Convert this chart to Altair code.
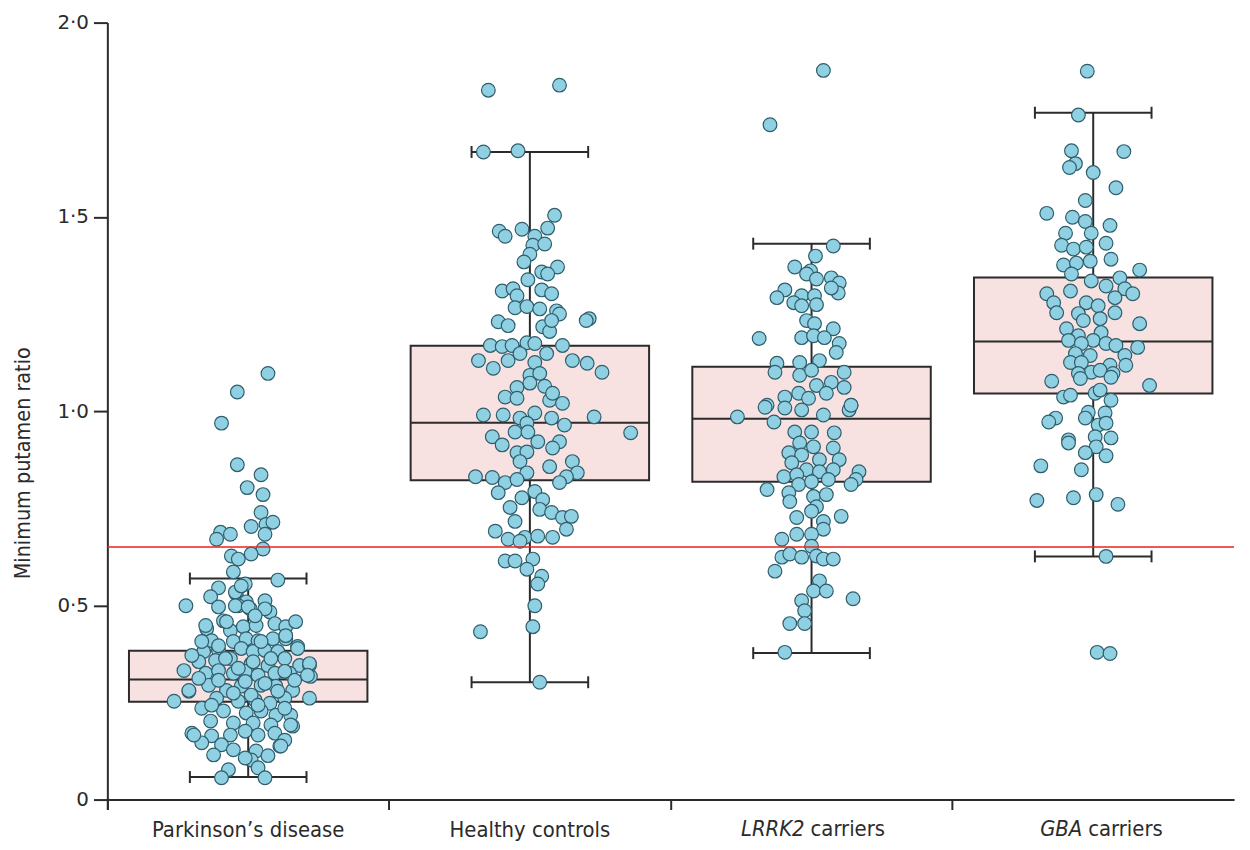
import altair as alt
import pandas as pd

# ---------------- data ----------------
groups = ["Parkinson’s disease", "Healthy controls", "LRRK2 carriers", "GBA carriers"]

# box-plot summary per group
q1 = [0.252, 0.822, 0.818, 1.045]
median = [0.309, 0.970, 0.980, 1.179]
q3 = [0.383, 1.168, 1.114, 1.344]
whisker_low = [0.058, 0.302, 0.377, 0.626]
whisker_high = [0.569, 1.667, 1.431, 1.768]

# individual subjects: value and horizontal jitter (offset from group centre)
pd_values = [1.097, 1.049, 0.969, 0.862, 0.836, 0.803, 0.785, 0.739, 0.703, 0.708, 0.714, 0.683, 0.688, 0.683,
             0.670, 0.645, 0.627, 0.619, 0.632, 0.586, 0.565, 0.555, 0.545, 0.499, 0.522, 0.529, 0.509, 0.512,
             0.534, 0.496, 0.499, 0.491, 0.483, 0.440, 0.460, 0.435, 0.445, 0.448, 0.453, 0.445, 0.458, 0.409,
             0.407, 0.414, 0.409, 0.414, 0.414, 0.394, 0.381, 0.384, 0.389, 0.381, 0.384, 0.381, 0.355, 0.358,
             0.363, 0.350, 0.345, 0.363, 0.345, 0.345, 0.332, 0.325, 0.332, 0.325, 0.330, 0.320, 0.325, 0.325,
             0.317, 0.279, 0.253, 0.294, 0.281, 0.292, 0.294, 0.292, 0.281, 0.261, 0.261, 0.253, 0.256, 0.248,
             0.261, 0.235, 0.228, 0.223, 0.228, 0.217, 0.217, 0.202, 0.197, 0.197, 0.192, 0.189, 0.171, 0.164,
             0.166, 0.176, 0.166, 0.171, 0.146, 0.141, 0.128, 0.125, 0.113, 0.138, 0.102, 0.082, 0.077, 0.056,
             0.056, 0.153, 0.115, 0.107, 0.550, 0.499, 0.496, 0.491, 0.448, 0.458, 0.473, 0.422, 0.407, 0.396,
             0.407, 0.389, 0.350, 0.320, 0.371, 0.363, 0.338, 0.355, 0.363, 0.330, 0.312, 0.307, 0.304, 0.299,
             0.307, 0.281, 0.274, 0.269, 0.279, 0.243, 0.243, 0.235, 0.192, 0.166, 0.138]
pd_jitter = [20, -11, -27, -11, 13, -1, 15, 13, 3, 18, 25, 17, -28, -18,
             -32, 15, -17, -10, 3, -15, 30, -3, -30, -63, -38, -12, -2, 17,
             -13, -30, -10, 2, 22, -42, -25, -18, -5, 8, 27, 38, 48, -37,
             -15, -2, 10, 25, 38, 50, -45, -30, -7, 5, 17, 30, -50, -33,
             -18, 3, 20, 37, 52, 62, -65, -43, -30, -15, -3, 10, 27, 42,
             63, -60, -75, -40, -22, -7, 13, 28, 45, 62, -32, -10, 7, 22,
             37, -47, -25, -2, 13, 28, 43, -38, -15, 5, 23, 45, -57, -37,
             -18, -3, 10, 27, -47, -27, -15, 8, 20, 32, 3, 10, -20, -27,
             17, 37, -35, -3, -7, -13, 0, 17, -43, -22, 7, 38, -47, -30,
             13, 50, 62, 60, -57, -23, -10, 5, 23, 37, -50, -30, -3, 17,
             47, -60, -15, 3, 30, -37, 10, 37, 43, -55, 33]

hc_values = [1.826, 1.839, 1.667, 1.670, 1.504, 1.463, 1.450, 1.468, 1.471, 1.450, 1.427, 1.430, 1.404, 1.384,
             1.371, 1.358, 1.353, 1.338, 1.309, 1.315, 1.297, 1.312, 1.302, 1.266, 1.269, 1.263, 1.258, 1.250,
             1.238, 1.233, 1.230, 1.220, 1.217, 1.205, 1.233, 1.169, 1.166, 1.169, 1.176, 1.174, 1.169, 1.130,
             1.110, 1.130, 1.148, 1.125, 1.148, 1.130, 1.123, 1.100, 1.092, 1.097, 1.061, 1.072, 1.064, 1.036,
             1.033, 1.028, 1.020, 1.046, 0.990, 0.990, 0.982, 0.995, 0.982, 0.985, 0.944, 0.969, 0.964, 0.946,
             0.946, 0.934, 0.921, 0.921, 0.913, 0.905, 0.893, 0.895, 0.870, 0.857, 0.870, 0.841, 0.831, 0.841,
             0.831, 0.829, 0.816, 0.824, 0.816, 0.790, 0.793, 0.777, 0.772, 0.752, 0.747, 0.739, 0.716, 0.726,
             0.729, 0.696, 0.691, 0.670, 0.675, 0.678, 0.675, 0.665, 0.614, 0.614, 0.619, 0.593, 0.575, 0.555,
             0.499, 0.432, 0.445, 0.302]
hc_jitter = [-42, 30, -47, -12, 25, -31, -25, -8, 18, 5, 3, 15, 0, -6,
             28, 12, 18, -2, -28, -17, -13, 12, 22, -15, -3, 10, 27, 30,
             60, 57, -32, -22, 13, 20, 22, -40, -28, -18, -3, 5, 33, -52,
             -37, -22, -10, 5, 17, 43, 58, 73, 0, 10, -13, 0, 15, -25,
             -13, 20, 33, 23, -47, -27, -10, 5, 22, 65, 102, -3, 35, -15,
             -2, -38, 8, 30, -28, 23, -13, -3, -10, 20, 43, 48, 37, -3,
             -55, -38, -25, -13, 30, -32, 5, -8, 13, -20, 10, 22, -15, 33,
             42, 37, -35, -22, -5, 8, 23, -10, -25, -15, 3, -3, 12, 8,
             5, -50, 3, 10]

lrrk2_values = [1.877, 1.737, 1.425, 1.399, 1.371, 1.361, 1.353, 1.340, 1.343, 1.330, 1.304, 1.317, 1.312, 1.292,
                1.297, 1.297, 1.279, 1.271, 1.274, 1.233, 1.225, 1.212, 1.187, 1.189, 1.194, 1.189, 1.174, 1.151,
                1.123, 1.100, 1.125, 1.130, 1.100, 1.092, 1.105, 1.066, 1.074, 1.061, 1.036, 1.046, 1.015, 1.033,
                1.046, 1.015, 0.985, 1.010, 0.972, 1.008, 1.003, 0.990, 1.003, 1.015, 0.946, 0.946, 0.944, 0.918,
                0.908, 0.905, 0.893, 0.887, 0.875, 0.875, 0.867, 0.849, 0.849, 0.844, 0.831, 0.836, 0.844, 0.824,
                0.811, 0.811, 0.818, 0.824, 0.798, 0.790, 0.780, 0.785, 0.767, 0.754, 0.742, 0.729, 0.726, 0.716,
                0.696, 0.683, 0.683, 0.670, 0.652, 0.624, 0.632, 0.624, 0.627, 0.619, 0.619, 0.588, 0.563, 0.537,
                0.537, 0.517, 0.512, 0.486, 0.453, 0.453, 0.379]
lrrk2_jitter = [12, -42, 22, 4, -17, -1, -5, 5, 20, 28, 27, 20, -27, -35,
                -10, 3, -18, -10, 5, -5, 3, 22, -53, -10, 2, 13, 28, 25,
                -35, -37, -12, 8, 33, -12, 0, 5, 20, 33, -27, -13, -45, -3,
                15, 40, -75, -47, -38, -27, -10, 12, 38, 40, -17, 0, 23, -12,
                2, 22, -23, -10, 8, 28, -20, -5, 22, 8, -28, -15, 48, 45,
                40, -13, 0, 17, -45, -23, 2, 15, -22, 5, 0, 30, -15, 12,
                12, -15, 0, -30, 0, -30, -22, -10, 5, 12, 22, -37, 8, 2,
                15, 42, -10, -7, -22, -7, -27]

gba_values = [1.875, 1.762, 1.670, 1.668, 1.637, 1.627, 1.614, 1.575, 1.542, 1.509, 1.499, 1.488, 1.478, 1.458,
              1.458, 1.432, 1.427, 1.417, 1.422, 1.391, 1.376, 1.381, 1.386, 1.353, 1.363, 1.335, 1.343, 1.322,
              1.315, 1.302, 1.302, 1.309, 1.279, 1.279, 1.271, 1.292, 1.253, 1.251, 1.253, 1.225, 1.233, 1.238,
              1.212, 1.202, 1.194, 1.182, 1.182, 1.174, 1.169, 1.164, 1.174, 1.148, 1.143, 1.143, 1.125, 1.125,
              1.118, 1.118, 1.100, 1.105, 1.097, 1.097, 1.077, 1.084, 1.087, 1.066, 1.046, 1.036, 1.041, 1.054,
              1.028, 0.997, 0.995, 0.982, 0.972, 0.982, 0.964, 0.969, 0.926, 0.934, 0.931, 0.918, 0.908, 0.893,
              0.885, 0.859, 0.849, 0.770, 0.777, 0.785, 0.760, 0.626, 0.379, 0.376]
gba_jitter = [-6, -15, -22, 31, -18, -24, 0, 23, -8, -47, -21, -8, 17, -28,
              -2, 13, -32, -20, -7, 18, -30, -17, -3, -22, 47, -2, 27, 13,
              32, 40, -47, -23, -40, -7, 5, 22, -37, -15, 22, 47, -10, 7,
              -27, 8, -15, -25, 0, 13, 23, 45, -12, -18, -3, 32, -23, -12,
              17, 33, -2, 7, 20, -15, -42, -13, 18, 57, 2, -30, -23, 7,
              18, -5, 12, -38, -45, -8, 5, 13, -25, 2, 18, -25, 3, -8,
              13, -53, -12, -57, -20, 3, 25, 13, 4, 17]

threshold = [0.65]
y_ticks = [0, 0.5, 1.0, 1.5, 2.0]
gene_names = ["LRRK2", "GBA"]
gene_suffix = "carriers"

# ---------------- tables ----------------
box_df = pd.DataFrame({"group": groups, "q1": q1, "median": median, "q3": q3,
                       "lo": whisker_low, "hi": whisker_high})
pts = []
for g, vals, jit in [(groups[0], pd_values, pd_jitter), (groups[1], hc_values, hc_jitter),
                     (groups[2], lrrk2_values, lrrk2_jitter), (groups[3], gba_values, gba_jitter)]:
    for v, j in zip(vals, jit):
        pts.append({"group": g, "value": v, "jitter": j})
pts_df = pd.DataFrame(pts)
caps = []
for g, lo, hi in zip(groups, whisker_low, whisker_high):
    for v in (lo, hi):
        for side in (-59, 59):
            caps.append({"group": g, "value": v, "jitter": side})
caps_df = pd.DataFrame(caps)
thr_df = pd.DataFrame({"value": threshold})
lab_df = pd.DataFrame({"group": groups[2:], "gene": gene_names, "rest": [gene_suffix] * 2})

W, H = 1134, 782
FONT = "DejaVu Sans Condensed, Liberation Sans Narrow, sans-serif"
NUMFONT = "DejaVu Sans, sans-serif"
DARK = "#2b2b2b"
FS = 22

x_enc = alt.X("group:N", sort=groups,
              scale=alt.Scale(domain=groups, paddingInner=0, paddingOuter=0),
              axis=alt.Axis(title=None, bandPosition=0, tickExtra=True, tickSize=10,
                            labelAngle=0, labelPadding=10, labelFontSize=FS, labelFont=FONT,
                            labelLimit=0,
                            labelExpr="indexof(datum.label, 'carriers') >= 0 ? '' : datum.label"))
y_scale = alt.Scale(domain=[0, 2], nice=False)
y_axis = alt.Axis(values=y_ticks, tickSize=14, labelPadding=5, labelFontSize=20, labelFont=NUMFONT,
                  labelExpr="datum.value == 0 ? '0' : replace(format(datum.value, '.1f'), '.', '·')",
                  title="Minimum putamen ratio", titleFontSize=21.5, titleFontWeight="normal",
                  titleFont=FONT, titleX=-73, titleY=443, grid=False)


def yq(field):
    return alt.Y(f"{field}:Q", scale=y_scale, axis=y_axis)


off = alt.XOffset("jitter:Q", scale=alt.Scale(domain=[-142.5, 142.5]))

whisk = alt.Chart(box_df).mark_rule(color=DARK, strokeWidth=2).encode(
    x=x_enc, y=yq("lo"), y2="hi")
box = alt.Chart(box_df).mark_bar(width=240, fill="#f7e1e1", stroke=DARK, strokeWidth=2,
                                 opacity=1).encode(x=x_enc, y=yq("q1"), y2="q3")
med = alt.Chart(box_df).mark_tick(size=240, thickness=2, color=DARK, opacity=1).encode(
    x=x_enc, y=yq("median"))
cap_lo = alt.Chart(box_df).mark_tick(size=118, thickness=2, color=DARK, opacity=1).encode(
    x=x_enc, y=yq("lo"))
cap_hi = alt.Chart(box_df).mark_tick(size=118, thickness=2, color=DARK, opacity=1).encode(
    x=x_enc, y=yq("hi"))
cap_ends = alt.Chart(caps_df).mark_tick(orient="vertical", size=12, thickness=2, color=DARK,
                                        opacity=1).encode(x=x_enc, xOffset=off, y=yq("value"))
points = alt.Chart(pts_df).mark_point(shape="circle", filled=True, fill="#8fd0e3", stroke="#2f5d6b",
                                      strokeWidth=1.2, size=190, opacity=1).encode(
    x=x_enc, xOffset=off, y=yq("value"))
thr = alt.Chart(thr_df).mark_rule(color="#e8231f", strokeWidth=1.6).encode(y=yq("value"))

layers = [whisk, box, med, cap_lo, cap_hi, cap_ends, points, thr]
# gene labels: italic gene name + upright "carriers", centred together under the band
for g, dx_gene, dx_rest in [(groups[2], -7, -1), (groups[3], -11, -5)]:
    sub = lab_df[lab_df["group"] == g]
    layers.append(alt.Chart(sub).mark_text(align="right", baseline="top", fontStyle="italic", fontSize=FS,
                                           font=FONT, color=DARK, dx=dx_gene).encode(
        x=x_enc, y=alt.value(H + 20), text="gene:N"))
    layers.append(alt.Chart(sub).mark_text(align="left", baseline="top", fontSize=FS,
                                           font=FONT, color=DARK, dx=dx_rest).encode(
        x=x_enc, y=alt.value(H + 20), text="rest:N"))

chart = alt.layer(*layers).properties(
    width=W, height=H, autosize=alt.AutoSizeParams(type="none"),
    padding={"left": 100, "top": 12, "right": 8, "bottom": 40}
).configure_view(stroke=None).configure_axis(
    domainColor=DARK, domainWidth=2, tickColor=DARK, tickWidth=2,
    labelColor=DARK, titleColor=DARK
)

chart.save("out.html", embed_options={"renderer": "svg", "actions": False})
